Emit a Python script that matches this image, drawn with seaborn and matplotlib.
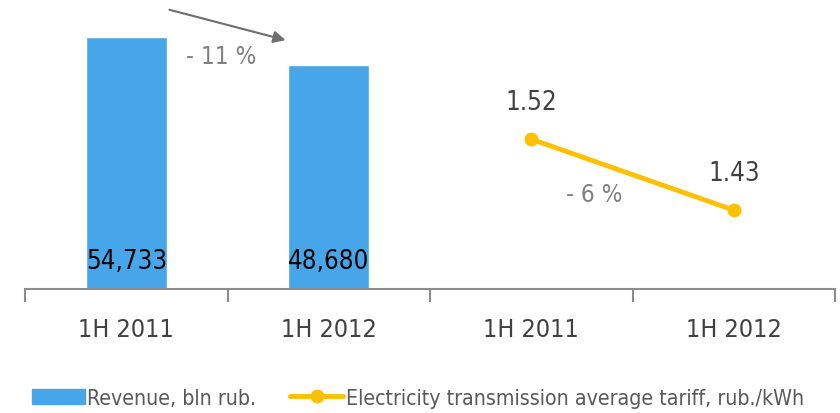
import matplotlib
matplotlib.use("Agg")
import matplotlib.pyplot as plt
import seaborn as sns
from matplotlib.patches import Patch
from matplotlib.lines import Line2D

# data
periods = ["1H 2011", "1H 2012"]
revenue = [54733, 48680]
revenue_labels = ["54,733", "48,680"]
tariff = [1.52, 1.43]
tariff_labels = ["1.52", "1.43"]
revenue_change = "- 11 %"
tariff_change = "- 6 %"

sns.set_theme(style="white")
plt.rcParams['font.family'] = ['DejaVu Sans']
plt.rcParams['font.stretch'] = 'condensed'

bar_color = "#47A6E9"
line_color = "#FFC000"
text_gray = "#404040"

fig = plt.figure(figsize=(8.4, 4.14), dpi=100)
ax = fig.add_axes([25 / 840, 124 / 414, 810 / 840, 280 / 414])

# revenue bars on positions 0, 1
sns.barplot(x=[0, 1], y=revenue, native_scale=True, color=bar_color,
            width=0.4, saturation=1, ax=ax)
ax.set_xlim(-0.5, 3.5)
ax.set_ylim(0, 60814)
for i, lab in enumerate(revenue_labels):
    ax.text(i, 6000, lab, ha="center", va="center", fontsize=18.5, color="black")

# tariff line on positions 2, 3
ax2 = ax.twinx()
sns.lineplot(x=[2, 3], y=tariff, color=line_color, linewidth=3.5, marker="o",
             markersize=10, markeredgewidth=0, ax=ax2)
ax2.set_ylim(1.33, 1.685)
for i, (v, lab) in enumerate(zip(tariff, tariff_labels)):
    ax2.text(2 + i, v + 0.047, lab, ha="center", va="center", fontsize=18.5, color=text_gray)

# change annotations
ax.text(0.47, 50600, revenue_change, ha="center", va="center", fontsize=17.5, color="#808080")
ax.annotate("", xy=(0.8, 53900), xytext=(0.2, 60800),
            arrowprops=dict(arrowstyle="-|>", color="#6E6E6E", lw=1.5, mutation_scale=18))
ax2.text(2.31, 1.451, tariff_change, ha="center", va="center", fontsize=17.5, color="#808080")

# axes styling
for a in (ax, ax2):
    for s in ("top", "right", "left"):
        a.spines[s].set_visible(False)
    a.set_yticks([])
ax2.spines["bottom"].set_visible(False)
ax.spines["bottom"].set_color("#8C8C8C")
ax.spines["bottom"].set_linewidth(1.5)
ax.set_xticks([0, 1, 2, 3])
ax.set_xticklabels(periods + periods, fontsize=18, color=text_gray)
ax.set_xticks([-0.5, 0.5, 1.5, 2.5, 3.5], minor=True)
ax.tick_params(axis="x", which="major", length=0, pad=20)
ax.tick_params(axis="x", which="minor", length=9, width=1.5, color="#8C8C8C",
               bottom=True, direction="out")

# legend
handles = [Patch(color=bar_color, label="Revenue, bln rub."),
           Line2D([], [], color=line_color, lw=3.5, marker="o", markersize=9,
                  label="Electricity transmission average tariff, rub./kWh")]
fig.legend(handles=handles, loc="center left", bbox_to_anchor=(32 / 840, 15 / 414), ncol=2,
           frameon=False, fontsize=15.3, labelcolor="#595959", handlelength=2.5,
           handleheight=0.75, handletextpad=0.1, columnspacing=1.6,
           borderpad=0, borderaxespad=0)

fig.savefig("out.png", dpi=100)
